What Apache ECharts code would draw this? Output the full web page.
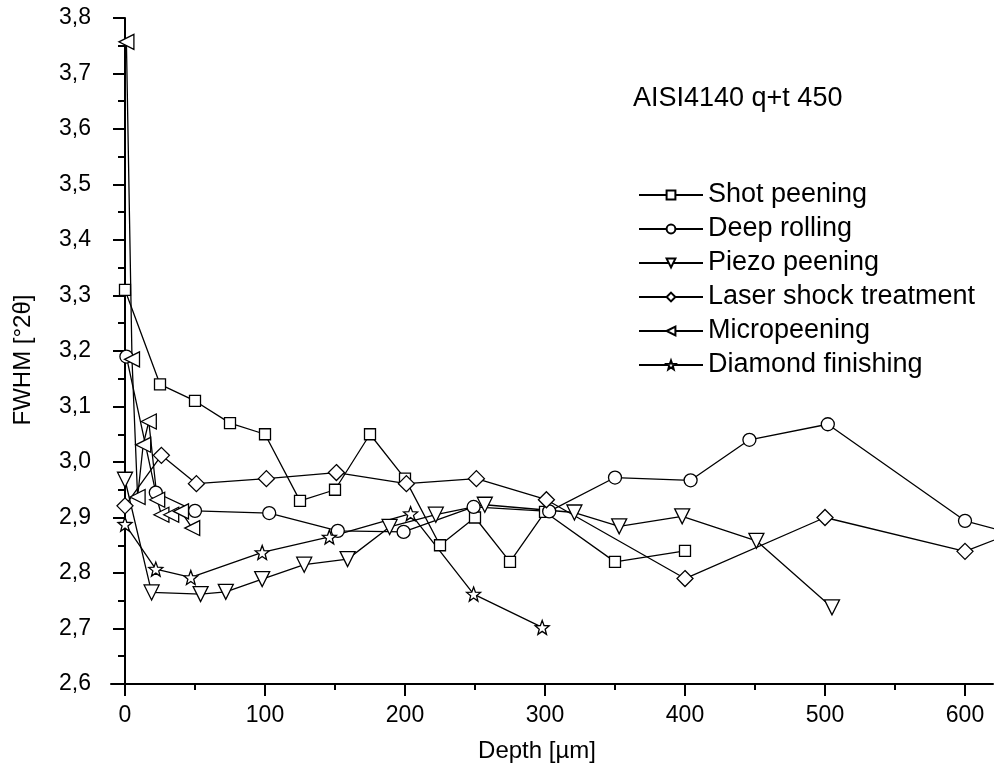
<!DOCTYPE html>
<html>
<head>
<meta charset="utf-8">
<script src="https://cdn.jsdelivr.net/npm/echarts@6/dist/echarts.min.js"></script>
<style>
html,body{margin:0;padding:0;background:#fff;}
#chart{width:994px;height:770px;}
</style>
</head>
<body>
<div id="chart"></div>
<script>
const seriesNames = ['Shot peening','Deep rolling','Piezo peening','Laser shock treatment','Micropeening','Diamond finishing'];

const shotX = [0,25,50,75,100,125,150,175,200,225,250,275,300,350,400];
const shotY = [3.31,3.14,3.11,3.07,3.05,2.93,2.95,3.05,2.97,2.85,2.90,2.82,2.91,2.82,2.84];

const deepX = [1,22,50,103,152,199,249,303,350,404,446,502,600,650];
const deepY = [3.19,2.945,2.912,2.908,2.876,2.874,2.919,2.911,2.972,2.967,3.040,3.068,2.894,2.86];

const piezoX = [0,19,54,72,98,128,159,189,222,257,321,353,398,451,505];
const piezoY = [2.968,2.765,2.762,2.766,2.789,2.815,2.825,2.883,2.905,2.923,2.909,2.884,2.902,2.858,2.738];

const laserX = [0,26,51,101,151,201,251,301,400,500,600,650];
const laserY = [2.921,3.012,2.961,2.970,2.981,2.961,2.970,2.932,2.790,2.900,2.839,2.888];

const microX = [1,5,9,13,17,23,26,33,40,48];
const microY = [3.757,3.185,2.937,3.031,3.073,2.932,2.905,2.905,2.911,2.881];

const diamX = [0,22,47,98,146,204,249,298];
const diamY = [2.888,2.807,2.792,2.837,2.865,2.907,2.762,2.702];

const xMajorTicks = [0,100,200,300,400,500,600];
const xMinorTicks = [50,150,250,350,450,550];

const FONT = '"Liberation Sans", Arial, sans-serif';
const STAR = 'path://M50 0 L62.34 33.01 L97.55 34.55 L69.97 56.49 L79.39 90.45 L50 71 L20.61 90.45 L30.03 56.49 L2.45 34.55 L37.66 33.01 Z';

function pairs(xs, ys){ return xs.map((x,i)=>[x, ys[i]]); }

const defs = [
  {name: seriesNames[0], data: pairs(shotX, shotY), symbol: 'rect', size: 11, rot: 0},
  {name: seriesNames[1], data: pairs(deepX, deepY), symbol: 'circle', size: 13, rot: 0},
  {name: seriesNames[2], data: pairs(piezoX, piezoY), symbol: 'triangle', size: 15, rot: 180},
  {name: seriesNames[3], data: pairs(laserX, laserY), symbol: 'diamond', size: 16, rot: 0},
  {name: seriesNames[4], data: pairs(microX, microY), symbol: 'triangle', size: 15, rot: 90},
  {name: seriesNames[5], data: pairs(diamX, diamY), symbol: STAR, size: 14, rot: 0}
];

const chart = echarts.init(document.getElementById('chart'), null, {renderer: 'canvas'});

chart.setOption({
  animation: false,
  backgroundColor: '#fff',
  textStyle: {fontFamily: FONT},
  grid: {left: 111, right: 1, top: 18, bottom: 86, containLabel: false},
  xAxis: [{
    type: 'value', min: -10, max: 620,
    name: 'Depth [µm]', nameLocation: 'middle', nameGap: 55,
    nameTextStyle: {fontSize: 24, color: '#000', fontFamily: FONT, padding: [0, 30, 0, 0]},
    axisLine: {show: true, lineStyle: {color: '#000', width: 2}},
    axisTick: {show: true, length: 12, lineStyle: {color: '#000', width: 2}, customValues: xMajorTicks},
    axisLabel: {show: true, fontSize: 23, color: '#000', fontFamily: FONT, margin: 20, customValues: xMajorTicks},
    splitLine: {show: false}
  }, {
    type: 'value', min: -10, max: 620, position: 'bottom',
    axisLine: {show: false},
    axisTick: {show: true, length: 6, lineStyle: {color: '#000', width: 2}, customValues: xMinorTicks},
    axisLabel: {show: false},
    splitLine: {show: false}
  }],
  yAxis: {
    type: 'value', min: 2.6, max: 3.8, interval: 0.1,
    name: 'FWHM [°2θ]', nameLocation: 'middle', nameGap: 76,
    nameTextStyle: {fontSize: 24, color: '#000', fontFamily: FONT, padding: [0, 18, 0, 0]},
    axisLine: {show: true, lineStyle: {color: '#000', width: 2}},
    axisTick: {show: true, length: 12, lineStyle: {color: '#000', width: 2}},
    minorTick: {show: true, splitNumber: 2, length: 7, lineStyle: {color: '#000', width: 2}},
    axisLabel: {fontSize: 23, color: '#000', fontFamily: FONT, margin: 20,
      formatter: v => v.toFixed(1).replace('.', ',')},
    splitLine: {show: false}
  },
  legend: {
    orient: 'vertical', left: 633, top: 175,
    itemWidth: 64, itemHeight: 11, itemGap: 4,
    textStyle: {fontSize: 27, color: '#000', fontFamily: FONT, lineHeight: 30, padding: [0,0,0,0]},
    data: seriesNames
  },
  graphic: [{
    type: 'text', left: 633, top: 85,
    style: {text: 'AISI4140 q+t 450', fontSize: 27, fill: '#000', fontFamily: FONT}
  }],
  series: defs.map(d => ({
    name: d.name, type: 'line', xAxisIndex: 0, data: d.data,
    symbol: d.symbol, symbolSize: d.size, symbolRotate: d.rot,
    showAllSymbol: true, clip: true,
    lineStyle: {color: '#000', width: 1.3},
    itemStyle: {color: '#fff', borderColor: '#000', borderWidth: 1.3},
    emphasis: {disabled: true}
  }))
});
</script>
</body>
</html>
